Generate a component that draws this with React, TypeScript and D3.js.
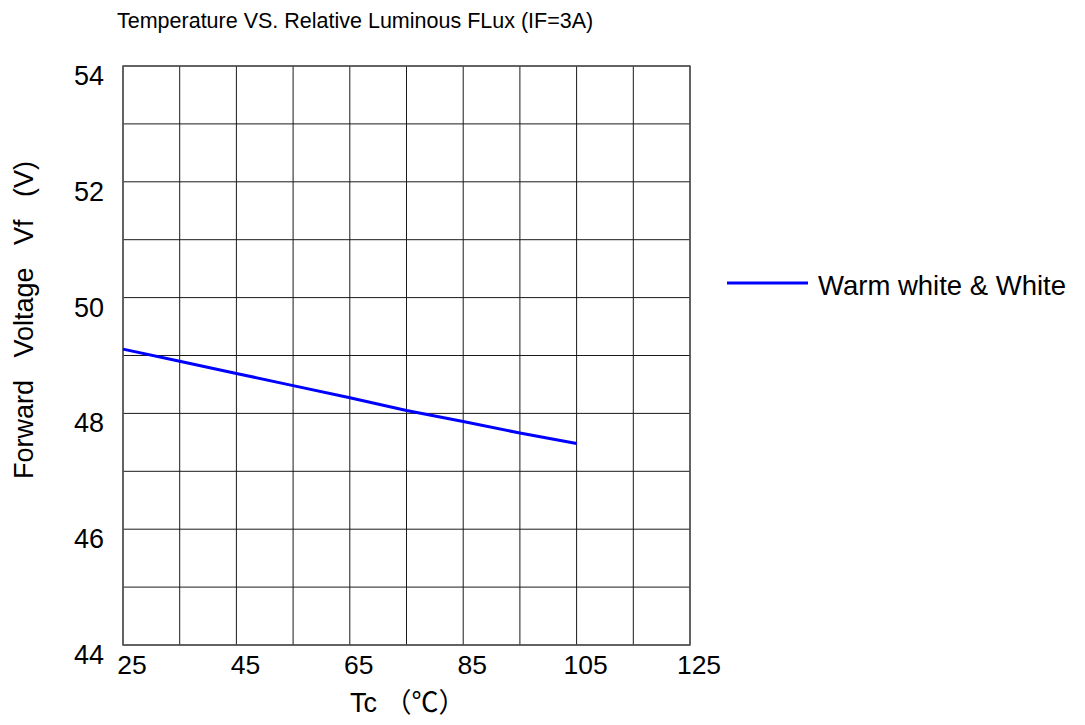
import React from "react";
import * as d3 from "d3";

const chartTitle = "Temperature VS. Relative Luminous FLux (IF=3A)";
const xTitle = "Tc";
const xUnit = "（℃）";
const yTitle = "Forward   Voltage   Vf   (V)";
const seriesName = "Warm white & White";

const tempC = [25, 35, 45, 55, 65, 75, 85, 95, 105];
const forwardVoltage = [49.11, 48.9, 48.69, 48.48, 48.27, 48.05, 47.86, 47.66, 47.48];

const xTickLabels = [25, 45, 65, 85, 105, 125];
const yTickLabels = [44, 46, 48, 50, 52, 54];
const xGridValues = [25, 35, 45, 55, 65, 75, 85, 95, 105, 115, 125];
const yGridValues = [44, 45, 46, 47, 48, 49, 50, 51, 52, 53, 54];

const W = 1085;
const H = 725;
const margin = { left: 123, right: 395, top: 66, bottom: 80 };
const FONT = "'Liberation Sans', Arial, sans-serif";

export default function App() {
  const x = d3.scaleLinear().domain([25, 125]).range([margin.left, W - margin.right]);
  const y = d3.scaleLinear().domain([44, 54]).range([H - margin.bottom, margin.top]);
  const pts: [number, number][] = tempC.map((t, i) => [t, forwardVoltage[i]]);
  const line = d3
    .line<[number, number]>()
    .x((d) => x(d[0]))
    .y((d) => y(d[1]));

  const x0 = x.range()[0];
  const x1 = x.range()[1];
  const y0 = y.range()[0];
  const y1 = y.range()[1];

  return (
    <svg
      width={W}
      height={H}
      style={{ position: "absolute", left: 0, top: 0, background: "#fff" }}
      fontFamily={FONT}
    >
      <rect x={0} y={0} width={W} height={H} fill="#fff" />
      <text x={117} y={28} fontSize={21.5} fill="#000">
        {chartTitle}
      </text>
      <g>
        {xGridValues.map((v) => (
          <line key={"vx" + v} x1={x(v)} x2={x(v)} y1={y0} y2={y1} stroke="#1a1a1a" strokeWidth={1} />
        ))}
        {yGridValues.map((v) => (
          <line key={"hy" + v} x1={x0} x2={x1} y1={y(v)} y2={y(v)} stroke="#1a1a1a" strokeWidth={1} />
        ))}
        <rect x={x0} y={y1} width={x1 - x0} height={y0 - y1} fill="none" stroke="#555" strokeWidth={1.5} />
      </g>
      <path d={line(pts) || ""} fill="none" stroke="#0000ff" strokeWidth={3} />
      {xTickLabels.map((v) => (
        <text key={"xt" + v} x={x(v) + 9} y={y0 + 29} fontSize={26.5} textAnchor="middle" fill="#000">
          {v}
        </text>
      ))}
      {yTickLabels.map((v) => (
        <text key={"yt" + v} x={104} y={y(v) + 19} fontSize={27} textAnchor="end" fill="#000">
          {v}
        </text>
      ))}
      <text x={350} y={712} fontSize={27} fill="#000" style={{ whiteSpace: "pre" }}>
        {xTitle + " "}
        <tspan fontFamily="'Liberation Serif', 'Noto Sans CJK SC', serif">{xUnit}</tspan>
      </text>
      <text
        transform={`translate(33, 320) rotate(-90)`}
        fontSize={27}
        textAnchor="middle"
        fill="#000"
        style={{ whiteSpace: "pre" }}
      >
        {yTitle}
      </text>
      <line x1={727} x2={808} y1={283} y2={283} stroke="#0000ff" strokeWidth={3} />
      <text x={818} y={295} fontSize={27.5} fill="#000">
        {seriesName}
      </text>
    </svg>
  );
}
